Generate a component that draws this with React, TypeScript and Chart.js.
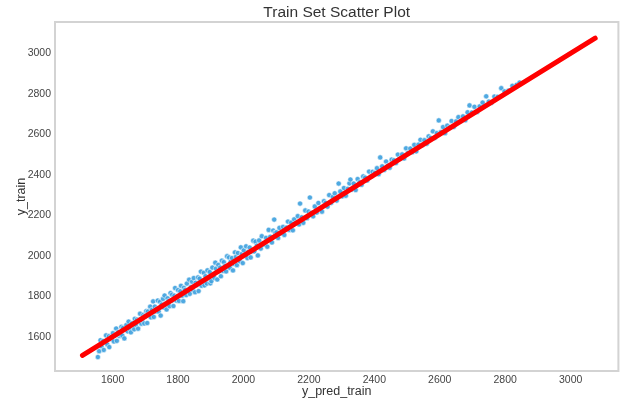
import React, { useEffect, useRef } from "react";
import { Chart, registerables } from "chart.js";

Chart.register(...registerables);

const chartTitle = "Train Set Scatter Plot";
const xTitle = "y_pred_train";
const yTitle = "y_train";
const xTicks = [1600, 1800, 2000, 2200, 2400, 2600, 2800, 3000];
const yTicks = [1600, 1800, 2000, 2200, 2400, 2600, 2800, 3000];

const predTrain = [
  1555, 1559, 1563, 1566, 1571, 1573, 1578, 1580, 1584, 1589, 1590, 1595, 1598, 1601, 1604, 1608, 1611, 1613, 1617, 1621,
  1622, 1627, 1630, 1632, 1636, 1640, 1642, 1646, 1649, 1652, 1656, 1659, 1661, 1666, 1668, 1671, 1675, 1678, 1680, 1684,
  1688, 1690, 1694, 1697, 1699, 1703,
  1706, 1708, 1711, 1715, 1717, 1720, 1724, 1726, 1729, 1733, 1735, 1738, 1741, 1745, 1747, 1750, 1754, 1756, 1759, 1763,
  1765, 1768, 1771, 1774, 1777, 1780, 1782, 1786, 1789, 1791, 1795, 1798, 1800, 1803, 1807, 1809, 1812, 1816, 1818, 1821,
  1825, 1827, 1830, 1834, 1836, 1839, 1843, 1845, 1848, 1852, 1854, 1857, 1861, 1863, 1866, 1870, 1872, 1875, 1879, 1881,
  1884, 1888, 1890, 1893, 1897, 1899,
  1902, 1905, 1907, 1911, 1914, 1916, 1920, 1923, 1925, 1929, 1931, 1934, 1938, 1940, 1943, 1947, 1950, 1952, 1956, 1959,
  1961, 1965, 1968, 1970, 1974, 1977, 1980, 1983, 1986, 1989, 1992, 1995, 1998, 2001, 2005, 2008, 2012, 2015, 2019, 2022,
  2026, 2030, 2033, 2037, 2041, 2044, 2048, 2053, 2056, 2060, 2064, 2069, 2073, 2077, 2082, 2087, 2091, 2094, 2097,
  2101, 2106, 2110, 2116, 2121, 2125, 2131, 2136, 2140, 2146, 2151, 2155, 2161, 2166, 2170, 2173, 2178, 2183, 2189, 2194,
  2199, 2203, 2207, 2213, 2218, 2224, 2229, 2235, 2240, 2246, 2251, 2257, 2262, 2268, 2273, 2279, 2285, 2291, 2296, 2302,
  2307, 2313, 2319, 2324, 2327, 2331, 2337, 2343, 2349, 2355, 2361, 2366, 2372, 2378, 2384, 2390, 2395,
  2402, 2408, 2413, 2418, 2424, 2430, 2436, 2441, 2447, 2453, 2460, 2466, 2472, 2478, 2485, 2491, 2497, 2503, 2510, 2516,
  2522, 2528, 2535, 2541, 2547, 2553, 2560, 2566, 2572, 2579, 2585, 2591, 2597, 2603, 2610, 2616, 2623, 2630, 2636, 2643,
  2650, 2657, 2664, 2671, 2678, 2685, 2691, 2698, 2706, 2714, 2722, 2731, 2742, 2750, 2758, 2767, 2777, 2788, 2798, 2810,
  2822, 2835, 2844,
];

const yTrain = [
  1500, 1529, 1583, 1553, 1579, 1535, 1573, 1607, 1562, 1603, 1549, 1598, 1588, 1618, 1577, 1607, 1641, 1580, 1623, 1604,
  1612, 1649, 1606, 1644, 1592, 1637, 1658, 1627, 1675, 1638, 1622, 1666, 1655, 1637, 1689, 1659, 1685, 1640, 1681, 1714,
  1665, 1681, 1708, 1666, 1703, 1727,
  1668, 1725, 1711, 1749, 1696, 1732, 1775, 1698, 1749, 1725, 1736, 1779, 1724, 1773, 1705, 1759, 1787, 1745, 1804, 1758,
  1735, 1790, 1776, 1751, 1816, 1778, 1808, 1752, 1803, 1841, 1779, 1800, 1831, 1777, 1825, 1852, 1803, 1776, 1842, 1831,
  1806, 1863, 1824, 1882, 1812, 1845, 1872, 1832, 1890, 1820, 1867, 1856, 1893, 1826, 1887, 1922, 1852, 1871, 1916, 1854,
  1899, 1863, 1928, 1890, 1920, 1864,
  1875, 1942, 1903, 1891, 1966, 1937, 1883, 1955, 1924, 1942, 1899, 1976, 1925, 1969, 1949, 1923, 1998, 1946, 1992, 1940,
  1971, 1989, 1928, 1961, 2017, 1995, 1954, 2014, 1988, 1973, 2042, 2009, 1964, 2027, 2003, 2047, 1989, 2020, 2041, 1992,
  2021, 2075, 2022, 2070, 2050, 2002, 2076, 2036, 2097, 2061, 2056, 2089, 2045, 2128, 2094, 2066, 2125, 2179, 2114,
  2116, 2088, 2138, 2111, 2143, 2103, 2139, 2169, 2128, 2164, 2126, 2180, 2163, 2196, 2155, 2258, 2190, 2163, 2224, 2186,
  2219, 2288, 2212, 2195, 2244, 2214, 2261, 2235, 2218, 2270, 2261, 2243, 2300, 2262, 2291, 2309, 2273, 2357, 2318, 2294,
  2335, 2297, 2331, 2358, 2377, 2327, 2357, 2325, 2379, 2363, 2351, 2392, 2386, 2372, 2416, 2392, 2415,
  2410, 2433, 2403, 2486, 2442, 2424, 2466, 2445, 2435, 2475, 2472, 2458, 2500, 2480, 2501, 2481, 2531, 2509, 2530, 2512,
  2548, 2516, 2549, 2573, 2547, 2571, 2554, 2590, 2582, 2615, 2583, 2606, 2669, 2611, 2636, 2606, 2643, 2634, 2666, 2637,
  2664, 2685, 2666, 2689, 2670, 2709, 2743, 2708, 2736, 2710, 2738, 2757, 2788, 2762, 2756, 2787, 2785, 2828, 2812, 2816,
  2840, 2845, 2856,
];

const fitLineX = [1508, 3075];
const fitLineY = [1508, 3075];

const FONT = "'Liberation Sans', Arial, Helvetica, sans-serif";

export default function App() {
  const ref = useRef<HTMLCanvasElement | null>(null);

  useEffect(() => {
    document.body.style.margin = "0";
    const canvas = ref.current;
    if (!canvas) return;

    const framePlugin = {
      id: "frameAndTitle",
      beforeDatasetsDraw(chart: any) {
        const { ctx, chartArea } = chart;
        ctx.save();
        ctx.strokeStyle = "#d3d3d3";
        ctx.lineWidth = 2;
        ctx.strokeRect(chartArea.left, chartArea.top, chartArea.right - chartArea.left, chartArea.bottom - chartArea.top);
        ctx.restore();
      },
      afterDraw(chart: any) {
        const { ctx, chartArea } = chart;
        ctx.save();
        ctx.fillStyle = "#333333";
        ctx.font = `15.5px ${FONT}`;
        ctx.textAlign = "center";
        ctx.textBaseline = "middle";
        ctx.fillText(chartTitle, (chartArea.left + chartArea.right) / 2, 12.5);
        ctx.restore();
      },
    };

    const chart = new Chart(canvas, {
      type: "scatter",
      data: {
        datasets: [
          {
            type: "line",
            label: "fit",
            data: fitLineX.map((x, i) => ({ x, y: fitLineY[i] })),
            borderColor: "#ff0000",
            borderWidth: 5,
            borderCapStyle: "round",
            pointRadius: 0,
            fill: false,
            order: 0,
          },
          {
            type: "scatter",
            label: "train",
            data: predTrain.map((x, i) => ({ x, y: yTrain[i] })),
            backgroundColor: "rgba(64,162,222,0.92)",
            borderColor: "rgba(255,255,255,0.9)",
            borderWidth: 0.6,
            pointRadius: 2.6,
            order: 1,
          },
        ],
      },
      options: {
        animation: false,
        responsive: true,
        maintainAspectRatio: false,
        layout: { padding: { top: 22, right: 2, bottom: 0, left: 0 } },
        plugins: {
          legend: { display: false },
          tooltip: { enabled: false },
          title: { display: false },
        },
        scales: {
          x: {
            type: "linear",
            min: 1424,
            max: 3146,
            grid: { display: false, drawTicks: false },
            border: { display: false },
            afterBuildTicks: (scale: any) => {
              scale.ticks = xTicks.map((v) => ({ value: v }));
            },
            afterFit: (scale: any) => {
              scale.height = 31;
            },
            ticks: {
              padding: 3,
              color: "#444444",
              font: { family: FONT, size: 10.5 },
              maxRotation: 0,
              callback: (v: any) => String(v),
            },
            title: {
              display: true,
              text: xTitle,
              color: "#333333",
              font: { family: FONT, size: 12.5 },
              padding: { top: 0, bottom: 3 },
            },
          },
          y: {
            type: "linear",
            min: 1431,
            max: 3155,
            grid: { display: false, drawTicks: false },
            border: { display: false },
            afterBuildTicks: (scale: any) => {
              scale.ticks = yTicks.map((v) => ({ value: v }));
            },
            afterFit: (scale: any) => {
              scale.width = 55;
            },
            ticks: {
              padding: 4,
              color: "#444444",
              font: { family: FONT, size: 10.5 },
              callback: (v: any) => String(v),
            },
            title: {
              display: true,
              text: yTitle,
              color: "#333333",
              font: { family: FONT, size: 12.5 },
              padding: { top: 14, bottom: 0 },
            },
          },
        },
      },
      plugins: [framePlugin],
    });

    return () => chart.destroy();
  }, []);

  return (
    <div style={{ width: 623, height: 402, position: "relative" }}>
      <canvas ref={ref} style={{ display: "block" }} />
    </div>
  );
}
